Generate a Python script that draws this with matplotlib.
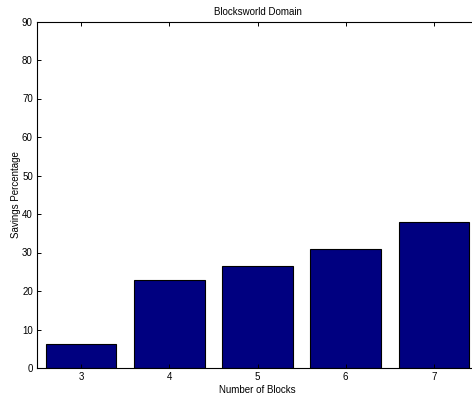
import matplotlib
matplotlib.use("Agg")
import matplotlib.pyplot as plt

plt.rcParams['font.family'] = ['Liberation Sans', 'DejaVu Sans']

blocks = [3, 4, 5, 6, 7]
savings = [6.2, 22.9, 26.4, 31.0, 38.0]
yticks = [0, 10, 20, 30, 40, 50, 60, 70, 80, 90]

W, H = 472, 394
fig = plt.figure(figsize=(W / 100, H / 100), dpi=100)
left, right, top, bottom = 37, 478, 21.5, 368
ax = fig.add_axes([left / W, (H - bottom) / H, (right - left) / W, (bottom - top) / H])

ax.bar(blocks, savings, width=0.8, color='#000080', edgecolor='black', linewidth=0.8)

ax.set_xlim(2.5, 7.5)
ax.set_ylim(0, 90)
ax.set_xticks(blocks)
ax.set_yticks(yticks)
ax.tick_params(direction='in', length=3, width=0.7, labelsize=7, top=True, right=True, pad=3)
for s in ax.spines.values():
    s.set_linewidth(0.8)

ax.set_title('Blocksworld Domain', fontsize=7, pad=5)
ax.set_xlabel('Number of Blocks', fontsize=7, labelpad=2)
ax.set_ylabel('Savings Percentage', fontsize=7, labelpad=1)

fig.savefig('out.png', dpi=100)
